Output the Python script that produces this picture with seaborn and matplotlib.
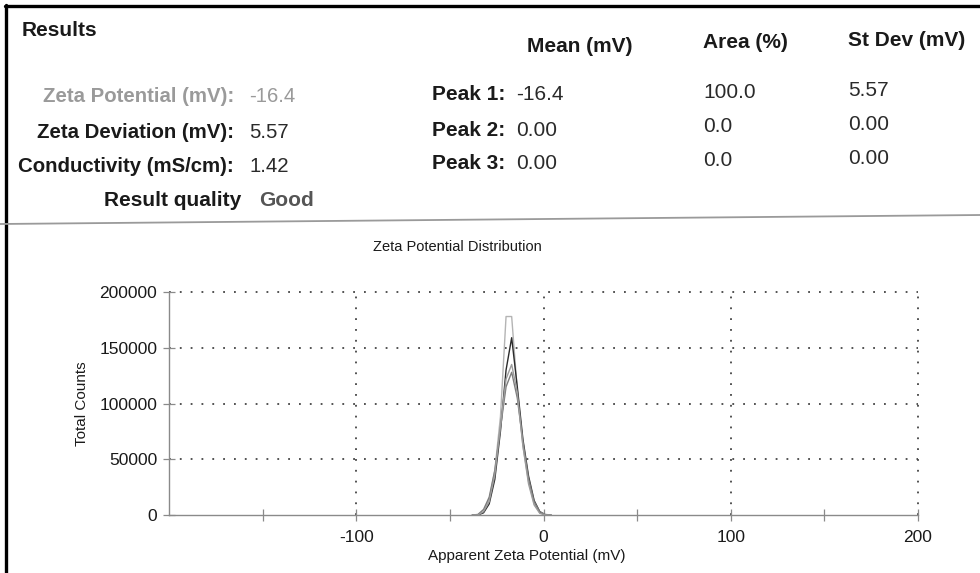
import matplotlib
matplotlib.use("Agg")
import matplotlib.pyplot as plt
from matplotlib.lines import Line2D
from matplotlib.ticker import FixedLocator
import seaborn as sns
import pandas as pd

# ---------------- data ----------------
zeta_mv = [-38, -35, -32, -29, -26, -23, -20, -17, -14, -11, -8, -5, -2, 1, 4]
run_names = ["Run 1", "Run 2", "Run 3", "Run 4"]
run1_counts = [0, 0, 3000, 14000, 40000, 88000, 178000, 178000, 112000, 62000, 30000, 10000, 2000, 0, 0]
run2_counts = [0, 0, 2000, 10000, 32000, 75000, 130000, 159000, 115000, 68000, 35000, 13000, 3000, 0, 0]
run3_counts = [0, 500, 5000, 16000, 40000, 78000, 115000, 128000, 105000, 66000, 33000, 12000, 3000, 500, 0]
run4_counts = [0, 0, 3000, 12000, 36000, 80000, 122000, 135000, 110000, 62000, 28000, 9000, 1500, 0, 0]
run_colors = ["#b4b4b4", "#2b2b2b", "#7c7c7c", "#9c9c9c"]

x_major = [-100, 0, 100, 200]
x_minor = [-150, -50, 50, 150]
y_major = [0, 50000, 100000, 150000, 200000]
y_minor = [25000, 75000, 125000, 175000]

summary_labels = ["Zeta Potential (mV):", "Zeta Deviation (mV):", "Conductivity (mS/cm):"]
summary_values = ["-16.4", "5.57", "1.42"]
quality_label = "Result quality"
quality_value = "Good"
peak_labels = ["Peak 1:", "Peak 2:", "Peak 3:"]
col_headers = ["Mean (mV)", "Area (%)", "St Dev (mV)"]
peak_mean = ["-16.4", "0.00", "0.00"]
peak_area = ["100.0", "0.0", "0.0"]
peak_sd = ["5.57", "0.00", "0.00"]

# ---------------- figure ----------------
sns.set_theme(style="white")
plt.rcParams["font.family"] = ["Liberation Sans", "DejaVu Sans"]

W, H = 980, 573
fig = plt.figure(figsize=(W / 100, H / 100), dpi=100)
fig.patch.set_facecolor("white")

def px(x, y):
    return x / W, 1 - y / H

def T(x, y, s, **kw):
    fx, fy = px(x, y)
    fig.text(fx, fy, s, **kw)

# axes
left, right, bottom, top = 169, 918, 515, 292
ax = fig.add_axes([left / W, 1 - bottom / H, (right - left) / W, (bottom - top) / H])
ax.set_facecolor("white")

rows = []
for name, counts in zip(run_names, [run1_counts, run2_counts, run3_counts, run4_counts]):
    for xv, yv in zip(zeta_mv, counts):
        rows.append({"mv": xv, "counts": yv, "run": name})
df = pd.DataFrame(rows)

sns.lineplot(data=df, x="mv", y="counts", hue="run", palette=run_colors,
             estimator=None, sort=False, linewidth=1.0, legend=False, ax=ax)

ax.set_xlim(-200, 200)
ax.set_ylim(0, 200000)
ax.xaxis.set_major_locator(FixedLocator(x_major))
ax.xaxis.set_minor_locator(FixedLocator(x_minor))
ax.yaxis.set_major_locator(FixedLocator(y_major))
ax.yaxis.set_minor_locator(FixedLocator(y_minor))
ax.set_xticklabels([str(v) for v in x_major])
ax.set_yticklabels([str(v) for v in y_major])

for s in ["top", "right"]:
    ax.spines[s].set_visible(False)
for s in ["left", "bottom"]:
    ax.spines[s].set_color("#8a8a8a")
    ax.spines[s].set_linewidth(1.0)

ax.tick_params(axis="both", which="both", direction="inout", color="#8a8a8a",
               width=0.9, labelcolor="#1a1a1a", labelsize=12.5)
ax.tick_params(axis="both", which="major", length=9)
ax.tick_params(axis="both", which="minor", length=9)
ax.tick_params(axis="x", which="major", pad=6)
ax.tick_params(axis="y", which="major", pad=4)
ax.tick_params(axis="y", which="major", left=True)
ax.tick_params(axis="x", which="both", bottom=True)

ax.grid(True, which="major", color="#444444", linestyle=(0, (1, 5)), linewidth=1.3)
for gl in ax.get_xgridlines() + ax.get_ygridlines():
    gl.set_clip_on(False)
ax.get_ygridlines()[0].set_visible(False)

ax.set_xlabel("Apparent Zeta Potential (mV)", fontsize=11, color="#1a1a1a")
ax.set_ylabel("Total Counts", fontsize=11, color="#1a1a1a")
ax.xaxis.set_label_coords((527 - left) / (right - left), -(556 - bottom) / (bottom - top), transform=ax.transAxes)
ax.yaxis.set_label_coords(-(169 - 82) / (right - left), 0.5)
ax.xaxis.label.set_verticalalignment("center")
ax.yaxis.label.set_verticalalignment("center")

T(457, 247, "Zeta Potential Distribution", fontsize=10.5, ha="center", va="center", color="#1a1a1a")

# ---------------- header ----------------
T(22, 31, "Results", fontsize=15, fontweight="bold", ha="left", va="center", color="#1a1a1a")

label_colors = ["#9a9a9a", "#1a1a1a", "#1a1a1a"]
value_colors = ["#9a9a9a", "#2a2a2a", "#2a2a2a"]
row_y = [96, 133, 167]
for lab, val, yv, lc, vc in zip(summary_labels, summary_values, row_y, label_colors, value_colors):
    T(234, yv, lab, fontsize=14.7, fontweight="bold", ha="right", va="center", color=lc)
    T(249, yv, val, fontsize=14.7, ha="left", va="center", color=vc)
T(241, 201, quality_label, fontsize=15, fontweight="bold", ha="right", va="center", color="#1a1a1a")
T(259, 201, quality_value, fontsize=15, fontweight="bold", ha="left", va="center", color="#555555")

# peak table
hdr_x = [527, 703, 848]
hdr_y = [46, 43, 40]
for h, xv, yv in zip(col_headers, hdr_x, hdr_y):
    T(xv, yv, h, fontsize=15, fontweight="bold", ha="left", va="center", color="#1a1a1a")

peak_y = [95, 130, 164]
for i, (pl, m, a, sd) in enumerate(zip(peak_labels, peak_mean, peak_area, peak_sd)):
    yv = peak_y[i]
    T(505, yv, pl, fontsize=15, fontweight="bold", ha="right", va="center", color="#1a1a1a")
    T(516, yv, m, fontsize=15, ha="left", va="center", color="#2a2a2a")
    T(703, yv - 3, a, fontsize=15, ha="left", va="center", color="#2a2a2a")
    T(848, yv - 5, sd, fontsize=15, ha="left", va="center", color="#2a2a2a")

# frame & separator
fig.add_artist(Line2D([px(6, 0)[0], px(6, 0)[0]], [px(0, 5)[1], 0], transform=fig.transFigure,
                      color="black", linewidth=2.4))
fig.add_artist(Line2D([px(5, 0)[0], 1], [px(0, 6)[1], px(0, 6)[1]], transform=fig.transFigure,
                      color="black", linewidth=2.4))
fig.add_artist(Line2D([px(0, 0)[0], 1], [px(0, 224)[1], px(0, 215)[1]], transform=fig.transFigure,
                      color="#9a9a9a", linewidth=1.3))

fig.savefig("out.png", dpi=100, facecolor="white")
